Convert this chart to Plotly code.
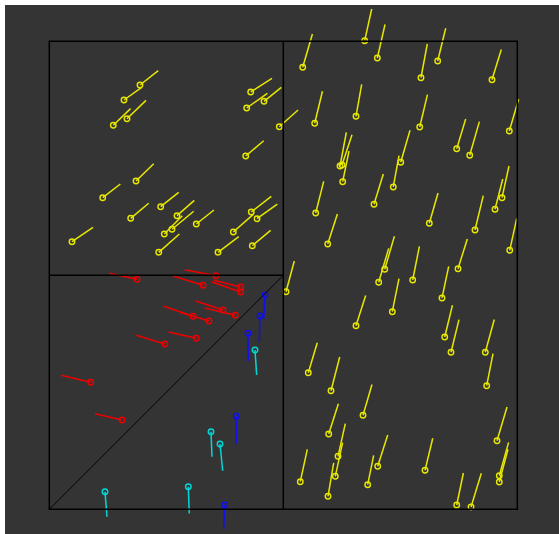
import plotly.graph_objects as go

# Vector samples per region: anchor position (x, y) and vector components (u, v)

# upper-left block
yl_x = [0.1938, 0.1596, 0.1367, 0.1660, 0.4303, 0.4218, 0.4588, 0.4915, 0.4197, 0.1853,
        0.1141, 0.0485, 0.1739, 0.2380, 0.2729, 0.2457, 0.2622, 0.3141, 0.2338, 0.4316,
        0.4438, 0.3932, 0.3605, 0.4338]
yl_y = [0.9066, 0.8746, 0.8205, 0.8346, 0.8917, 0.8575, 0.8718, 0.8175, 0.7549, 0.7015,
        0.6658, 0.5718, 0.6218, 0.6466, 0.6274, 0.5882, 0.5983, 0.6096, 0.5491, 0.6353,
        0.6209, 0.5925, 0.5491, 0.5632]
yl_u = [0.0391, 0.0378, 0.0370, 0.0406, 0.0455, 0.0442, 0.0370, 0.0400, 0.0385, 0.0378,
        0.0378, 0.0449, 0.0385, 0.0385, 0.0370, 0.0385, 0.0464, 0.0378, 0.0442, 0.0427,
        0.0434, 0.0427, 0.0442, 0.0391]
yl_v = [0.0306, 0.0271, 0.0357, 0.0391, 0.0293, 0.0314, 0.0299, 0.0357, 0.0327, 0.0370,
        0.0293, 0.0306, 0.0321, 0.0306, 0.0327, 0.0391, 0.0385, 0.0299, 0.0391, 0.0335,
        0.0314, 0.0378, 0.0335, 0.0327]

# right half
yr_x = [0.6739, 0.7009, 0.5415, 0.7942, 0.8299, 0.9459, 0.5671, 0.6553, 0.7915, 0.9829,
        0.8705, 0.8983, 0.6212, 0.6254, 0.6269, 0.7509, 0.7350, 0.5692, 0.6938, 0.8120,
        0.9524, 0.9673, 0.9096, 0.9838, 0.5949, 0.8733, 0.5058, 0.7167, 0.7038, 0.7765,
        0.8391, 0.7329, 0.6553, 0.8449, 0.8583, 0.9316, 0.9346, 0.5534, 0.6019, 0.6703,
        0.5970, 0.6169, 0.6111, 0.7017, 0.5363, 0.5955, 0.6803, 0.8028, 0.9566, 0.9615,
        0.9615, 0.8705, 0.9011]
yr_y = [1.0013, 0.9643, 0.9444, 0.9222, 0.9579, 0.9179, 0.8248, 0.8397, 0.8169, 0.8083,
        0.7705, 0.7564, 0.7335, 0.7357, 0.7000, 0.7415, 0.6887, 0.6331, 0.6517, 0.6111,
        0.6410, 0.6658, 0.5968, 0.5534, 0.5669, 0.5141, 0.4650, 0.5128, 0.4850, 0.4900,
        0.4515, 0.4222, 0.3923, 0.3682, 0.3355, 0.3355, 0.2641, 0.2919, 0.2534, 0.2009,
        0.1609, 0.1132, 0.0705, 0.0919, 0.0590, 0.0278, 0.0526, 0.0833, 0.1466, 0.0718,
        0.0583, 0.0092, 0.0049]
yr_u = [0.0150, 0.0165, 0.0207, 0.0135, 0.0171, 0.0199, 0.0165, 0.0122, 0.0165, 0.0199,
        0.0192, 0.0207, 0.0135, 0.0214, 0.0135, 0.0199, 0.0122, 0.0171, 0.0199, 0.0186,
        0.0165, 0.0150, 0.0177, 0.0150, 0.0207, 0.0199, 0.0177, 0.0207, 0.0214, 0.0143,
        0.0143, 0.0143, 0.0207, 0.0165, 0.0171, 0.0192, 0.0135, 0.0192, 0.0186, 0.0192,
        0.0207, 0.0156, 0.0156, 0.0214, 0.0150, 0.0122, 0.0128, 0.0165, 0.0214, 0.0199,
        0.0186, 0.0143, 0.0220]
yr_v = [0.0677, 0.0720, 0.0712, 0.0720, 0.0699, 0.0647, 0.0684, 0.0684, 0.0690, 0.0677,
        0.0635, 0.0720, 0.0720, 0.0647, 0.0656, 0.0684, 0.0669, 0.0677, 0.0647, 0.0647,
        0.0647, 0.0677, 0.0733, 0.0684, 0.0641, 0.0635, 0.0656, 0.0705, 0.0726, 0.0720,
        0.0677, 0.0705, 0.0647, 0.0677, 0.0699, 0.0699, 0.0684, 0.0641, 0.0720, 0.0656,
        0.0647, 0.0699, 0.0720, 0.0669, 0.0690, 0.0712, 0.0626, 0.0684, 0.0720, 0.0712,
        0.0699, 0.0684, 0.0720]

# lower-left block, above the diagonal
rd_x = [0.1874, 0.3562, 0.3284, 0.4090, 0.4090, 0.3712, 0.3974, 0.3071, 0.3412, 0.3141,
        0.2472, 0.0885, 0.1553]
rd_y = [0.4915, 0.4991, 0.4786, 0.4750, 0.4643, 0.4259, 0.4145, 0.4124, 0.4024, 0.3654,
        0.3532, 0.2714, 0.1908]
rd_u = [-0.0592, -0.0669, -0.0635, -0.0571, -0.0613, -0.0583, -0.0656, -0.0626, -0.0620,
        -0.0592, -0.0613, -0.0635, -0.0577]
rd_v = [0.0128, 0.0128, 0.0199, 0.0143, 0.0214, 0.0192, 0.0156, 0.0214, 0.0186, 0.0135,
        0.0186, 0.0150, 0.0135]

# lower-left block, below the diagonal
bl_x = [0.4609, 0.4502, 0.4246, 0.3996, 0.3748]
bl_y = [0.4579, 0.4130, 0.3761, 0.1987, 0.0092]
bl_u = [-0.0028, -0.0015, 0.0006, 0.0000, -0.0021]
bl_v = [-0.0506, -0.0549, -0.0592, -0.0583, -0.0519]

cy_x = [0.4395, 0.3455, 0.3647, 0.1190, 0.2970]
cy_y = [0.3404, 0.1658, 0.1395, 0.0376, 0.0483]
cy_u = [0.0036, 0.0021, 0.0058, 0.0043, 0.0021]
cy_v = [-0.0534, -0.0534, -0.0571, -0.0534, -0.0571]

groups = [
    (yl_x, yl_y, yl_u, yl_v, "#e8e800"),
    (yr_x, yr_y, yr_u, yr_v, "#e8e800"),
    (rd_x, rd_y, rd_u, rd_v, "#ee0000"),
    (bl_x, bl_y, bl_u, bl_v, "#1010ee"),
    (cy_x, cy_y, cy_u, cy_v, "#00d8d8"),
]

fig = go.Figure()

for xs, ys, us, vs, col in groups:
    lx, ly = [], []
    for x, y, u, v in zip(xs, ys, us, vs):
        lx += [x, x + u, None]
        ly += [y, y + v, None]
    fig.add_trace(go.Scatter(x=lx, y=ly, mode="lines",
                             line=dict(color=col, width=1.5),
                             hoverinfo="skip", showlegend=False))
    fig.add_trace(go.Scatter(x=xs, y=ys, mode="markers",
                             marker=dict(symbol="circle-open", size=5.5, color=col,
                                         line=dict(width=1.4, color=col)),
                             showlegend=False))

# region outlines
box = dict(type="line", xref="x", yref="y", line=dict(color="black", width=1.5))
fig.add_shape(type="rect", xref="x", yref="y", x0=0, y0=0, x1=1, y1=1,
              line=dict(color="black", width=1.5))
fig.add_shape(**box, x0=0.5, y0=0, x1=0.5, y1=1)
fig.add_shape(**box, x0=0, y0=0.5, x1=0.5, y1=0.5)
fig.add_shape(type="line", xref="x", yref="y", x0=0, y0=0, x1=0.5, y1=0.5,
              line=dict(color="black", width=1))

fig.update_xaxes(range=[-0.09466, 1.08910], visible=False, showgrid=False, zeroline=False)
fig.update_yaxes(range=[-0.05278, 1.07756], visible=False, showgrid=False, zeroline=False)
fig.update_layout(
    width=559, height=534,
    margin=dict(l=5, r=0, t=5, b=0),
    paper_bgcolor="white",
    plot_bgcolor="#343434",
)

fig.write_html("out.html")
